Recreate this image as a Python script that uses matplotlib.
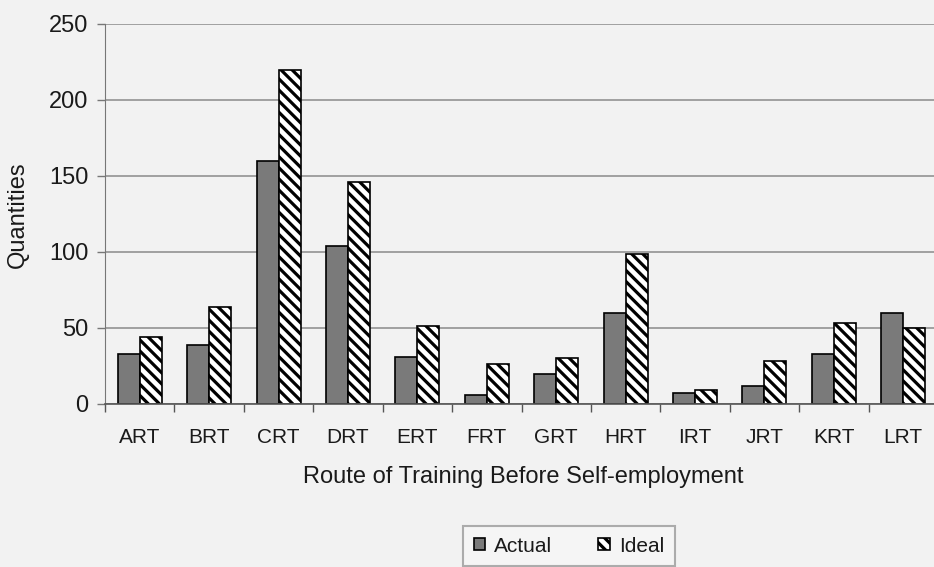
import numpy as np
import matplotlib
matplotlib.use("Agg")
import matplotlib.pyplot as plt
from matplotlib.ticker import FixedLocator

# routes of training and quantities (actual vs ideal)
routes = ["ART", "BRT", "CRT", "DRT", "ERT", "FRT", "GRT", "HRT", "IRT", "JRT", "KRT", "LRT"]
actual = [33, 39, 160, 104, 31, 6, 20, 60, 7, 12, 33, 60]
ideal = [44, 64, 220, 146, 51, 26, 30, 99, 9, 28, 53, 50]
y_ticks = [0, 50, 100, 150, 200, 250]

plt.rcParams["font.family"] = ["Liberation Sans", "DejaVu Sans"]
plt.rcParams["hatch.linewidth"] = 2.3
plt.rcParams["hatch.color"] = "black"

bg = "#f2f2f2"
text_col = "#1a1a1a"

fig = plt.figure(figsize=(9.34, 5.67), dpi=100, facecolor=bg)
ax = fig.add_axes([105 / 934, 1 - 404 / 567, 833 / 934, 380 / 567])
ax.set_facecolor(bg)

x = np.arange(len(routes))
w = 0.317
ax.bar(x - w / 2, actual, width=w, color="#7a7a7a", edgecolor="black",
       linewidth=1.2, label="Actual", zorder=3)
ax.bar(x + w / 2, ideal, width=w, color="white", edgecolor="black",
       linewidth=1.2, hatch="\\\\\\", label="Ideal", zorder=3)

ax.set_xlim(-0.5, len(routes) - 0.5)
ax.set_ylim(0, 250)

# y axis: gridlines at every 50
ax.set_yticks(y_ticks)
ax.yaxis.grid(True, color="#8a8a8a", linewidth=1.1, zorder=0)
ax.tick_params(axis="y", length=6, width=1, color="#777777", pad=6,
               labelsize=17, labelcolor=text_col)

# x axis: labels centred on categories, tick marks on the boundaries
ax.set_xticks(x)
ax.set_xticklabels(routes)
ax.tick_params(axis="x", which="major", length=0, pad=17,
               labelsize=15, labelcolor=text_col)
ax.xaxis.set_minor_locator(FixedLocator(np.arange(-0.5, len(routes), 1.0)))
ax.tick_params(axis="x", which="minor", length=6, width=1, color="#555555")

for side in ["top", "right"]:
    ax.spines[side].set_visible(False)
ax.spines["left"].set_color("#777777")
ax.spines["bottom"].set_color("#555555")
ax.spines["bottom"].set_linewidth(1.2)
ax.spines["bottom"].set_zorder(4)

fig.text(18 / 934, 1 - 215 / 567, "Quantities", rotation=90, ha="center",
         va="center", fontsize=17, color=text_col)
fig.text(523 / 934, 1 - 477 / 567, "Route of Training Before Self-employment",
         ha="center", va="center", fontsize=17, color=text_col)

leg = fig.legend(loc="center", bbox_to_anchor=(569 / 934, 1 - 546 / 567),
                 ncol=2, fontsize=15, frameon=True, fancybox=False,
                 handlelength=0.55, handleheight=0.55, handletextpad=0.45,
                 columnspacing=2.2, borderpad=0.5)
leg.get_frame().set_edgecolor("#9a9a9a")
leg.get_frame().set_linewidth(1.5)
leg.get_frame().set_facecolor("#f7f7f7")
for t in leg.get_texts():
    t.set_color(text_col)

fig.savefig("out.png", dpi=100, facecolor=bg)
